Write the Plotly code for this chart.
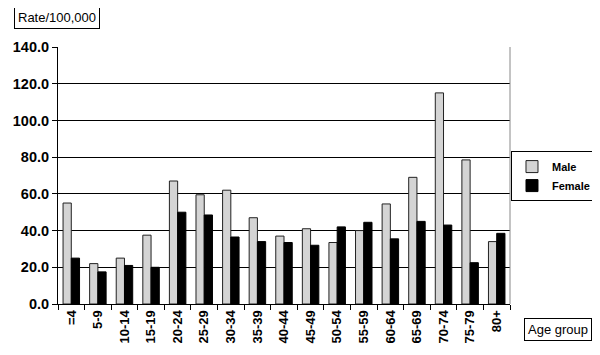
import plotly.graph_objects as go

age_groups = ["=4", "5-9", "10-14", "15-19", "20-24", "25-29", "30-34", "35-39", "40-44",
              "45-49", "50-54", "55-59", "60-64", "65-69", "70-74", "75-79", "80+"]
male = [55.0, 22.0, 25.0, 37.5, 67.0, 59.5, 62.0, 47.0, 37.0, 41.0, 33.5, 40.0, 54.5, 69.0, 115.0, 78.5, 34.0]
female = [25.0, 17.5, 21.0, 20.0, 50.0, 48.5, 36.5, 34.0, 33.5, 32.0, 42.0, 44.5, 35.5, 45.0, 43.0, 22.5, 38.5]
y_ticks = [0, 20, 40, 60, 80, 100, 120, 140]

FONT = "Arial, Liberation Sans, sans-serif"

fig = go.Figure()
fig.add_trace(go.Bar(x=age_groups, y=male, name="<b>Male</b>",
                     marker=dict(color="#d4d4d4", line=dict(color="#222222", width=1))))
fig.add_trace(go.Bar(x=age_groups, y=female, name="<b>Female</b>",
                     marker=dict(color="#000000", line=dict(color="#000000", width=1))))

# page body has an 8px margin, so the figure is drawn 8px in from the window edge
fig.update_layout(
    width=592, height=347,
    margin=dict(l=50, r=90, t=39, b=51, autoexpand=False),
    paper_bgcolor="white", plot_bgcolor="white",
    barmode="group", bargap=0.38, bargroupgap=0,
    font=dict(family=FONT, size=13, color="black"),
    showlegend=True,
    legend=dict(x=1.0022, y=0.595, xanchor="left", yanchor="top",
                bordercolor="black", borderwidth=1, bgcolor="white",
                font=dict(family=FONT, size=11, color="black"),
                itemwidth=30, tracegroupgap=0,
                traceorder="normal"),
    xaxis=dict(type="category", tickangle=-90, showline=True, linecolor="black", linewidth=1,
               ticks="outside", tickson="boundaries", ticklen=5, tickcolor="black",
               tickfont=dict(family=FONT, size=13, color="black", weight="bold"),
               showgrid=False, automargin=False),
    yaxis=dict(range=[0, 140], tickvals=y_ticks, tickformat=".1f",
               showline=True, linecolor="black", linewidth=1,
               ticks="outside", ticklen=5, tickcolor="black",
               showgrid=True, gridcolor="black", gridwidth=1,
               tickfont=dict(family=FONT, size=14.5, color="black", weight="bold"),
               zeroline=False, automargin=False),
    annotations=[
        dict(text="Rate/100,000", xref="paper", yref="paper", x=-0.003, y=1.113,
             xanchor="center", yanchor="middle", showarrow=False,
             bordercolor="black", borderwidth=1, borderpad=3, bgcolor="white",
             font=dict(family=FONT, size=13, color="black")),
        dict(text="Age group", xref="paper", yref="paper", x=1.106, y=-0.099,
             xanchor="center", yanchor="middle", showarrow=False,
             bordercolor="black", borderwidth=1, borderpad=3, bgcolor="white",
             font=dict(family=FONT, size=13, color="black")),
    ],
    shapes=[
        dict(type="line", xref="paper", yref="paper", x0=1, x1=1, y0=0, y1=1,
             line=dict(color="#888888", width=1)),
    ],
)

fig.write_html("out.html")
